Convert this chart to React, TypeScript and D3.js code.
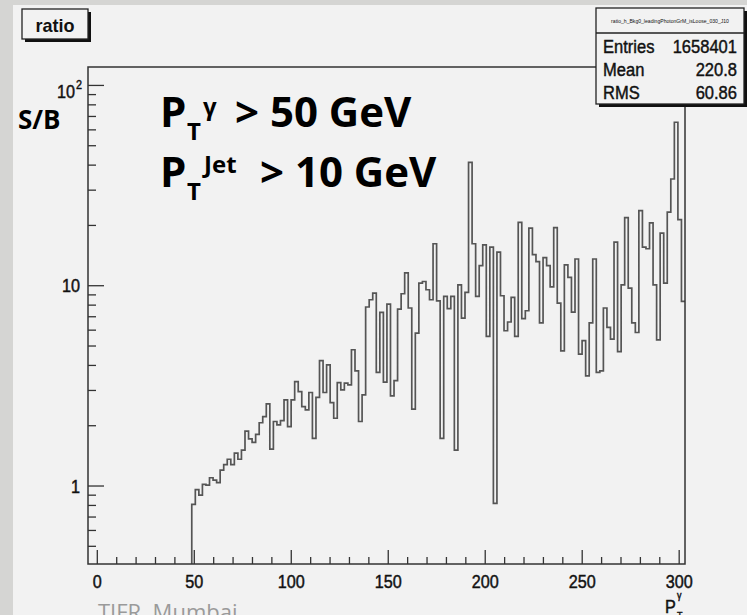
import React from "react";
import * as d3 from "d3";

// ---- data ----
const BIN_START = 48.7; // GeV, lower edge of first filled bin
const BIN_END = 303; // GeV, upper edge of last bin
const ratioValues: number[] = [
  0.81, 0.96, 0.9, 1.02, 1.01, 1.1, 1.07, 1.04, 1.2, 1.28,
  1.36, 1.28, 1.46, 1.36, 1.51, 1.88, 1.72, 1.65, 1.81, 2.07,
  2.22, 2.57, 1.53, 2.1, 2.02, 2.12, 2.69, 1.98, 2.69, 3.32,
  2.96, 2.49, 2.4, 2.93, 1.73, 2.77, 4.23, 2.93, 4.03, 2.61,
  2.18, 3.28, 3.02, 3.26, 3.2, 4.79, 3.76, 2.1, 2.85, 7.83,
  8.51, 9.19, 3.69, 7.36, 3.3, 8.1, 2.82, 3.36, 7.65, 9.12,
  11.6, 7.74, 2.42, 5.8, 10.3, 10.5, 9.55, 8.51, 16.2, 8.41,
  1.73, 8.84, 7.69, 8.84, 1.51, 10.1, 6.89, 9.26, 41.3, 16.2,
  8.84, 12.6, 16.0, 5.58, 15.6, 0.82, 14.7, 8.91, 5.96, 6.59,
  8.74, 5.58, 20.7, 6.85, 7.5, 19.4, 14.3, 13.2, 6.52, 13.8,
  12.6, 9.86, 19.5, 8.19, 4.73, 12.7, 11.0, 7.39, 13.6, 4.55,
  5.32, 3.55, 6.52, 13.6, 3.69, 3.76, 7.74, 6.19, 5.41, 16.5,
  4.69, 10.1, 21.9, 9.73, 6.52, 5.84, 23.7, 15.6, 15.3, 20.6,
  10.1, 5.36, 18.3, 10.3, 23.3, 34.1, 65.5, 21.4, 8.35,
];
const xMajorTicks = [0, 50, 100, 150, 200, 250, 300];
const xMinorStep = 10;
const yMajorTicks = [1, 10, 100];
const yTickLabels = ["1", "10", "10"];
const statsTitle = "ratio_h_Bkg0_leadingPhotonGrM_isLoose_030_J10";
const statsNames = ["Entries", "Mean", "RMS"];
const statsValues = ["1658401", "220.8", "60.86"];
const histTitle = "ratio";
const yAxisTitle = "S/B";
const cutLine1 = { main: "P", sub: "T", sup: "\u03B3", rest: "> 50 GeV" };
const cutLine2 = { main: "P", sub: "T", sup: "Jet", rest: "> 10 GeV" };
const footer = "TIFR, Mumbai";

const axisFont = "'Liberation Sans', Arial, sans-serif";
const annFont = "'Open Sans', Lato, sans-serif";
const ink = "#111";

function CText(props: {
  x: number;
  y: number;
  sx?: number;
  size: number;
  anchor?: string;
  weight?: number;
  bold?: boolean;
  children: React.ReactNode;
}) {
  const { x, y, sx = 0.87, size, anchor = "start", weight = 400, bold = true, children } = props;
  return (
    <text
      transform={`translate(${x},${y}) scale(${sx},1)`}
      textAnchor={anchor}
      fontFamily={axisFont}
      fontSize={size}
      fontWeight={weight}
      fill={ink}
      stroke={bold ? ink : "none"}
      strokeWidth={bold ? 0.45 : 0}
    >
      {children}
    </text>
  );
}

export default function App() {
  const W = 747;
  const H = 615;
  const F = { left: 88, top: 67, right: 685, bottom: 564 };
  const X_MIN = -4.8;
  const X_MAX = 303;
  const Y_MIN = 0.408;
  const Y_MAX = 123.6;

  const x = d3.scaleLinear().domain([X_MIN, X_MAX]).range([F.left, F.right]);
  const y = d3.scaleLog().domain([Y_MIN, Y_MAX]).range([F.bottom, F.top]);

  const bw = (BIN_END - BIN_START) / ratioValues.length;
  const pts: [number, number][] = [[BIN_START, Y_MIN]];
  ratioValues.forEach((v, i) => pts.push([BIN_START + i * bw, v]));
  pts.push([BIN_END, ratioValues[ratioValues.length - 1]]);
  const line = d3
    .line<[number, number]>()
    .x((d) => x(d[0]))
    .y((d) => y(Math.max(d[1], Y_MIN)))
    .curve(d3.curveStepAfter);
  const histPath = line(pts) || "";

  const xMinor = d3.range(0, 301, xMinorStep).filter((v) => v % 50 !== 0);
  const yMinor: number[] = [];
  [0.1, 1, 10, 100].forEach((dec) => {
    for (let k = 2; k <= 9; k++) {
      const v = k * dec;
      if (v >= Y_MIN && v <= Y_MAX) yMinor.push(v);
    }
  });

  return (
    <svg
      width={W}
      height={H}
      style={{ position: "fixed", left: 0, top: 0, display: "block" }}
    >
      <rect x={0} y={0} width={W} height={H} fill="#d5d5d3" />
      <rect x={13} y={5} width={W - 13} height={H - 5} fill="#f2f2f2" />

      {/* footer text, cut at the bottom as in the slide */}
      <text x={98} y={620} fontFamily={annFont} fontSize={22} fill="#9a9a9a">
        {footer}
      </text>

      {/* histogram */}
      <defs>
        <clipPath id="frameClip">
          <rect x={F.left} y={F.top} width={F.right - F.left} height={F.bottom - F.top} />
        </clipPath>
      </defs>
      <path
        d={histPath}
        fill="none"
        stroke="#555"
        strokeWidth={1.7}
        clipPath="url(#frameClip)"
      />

      {/* frame */}
      <rect
        x={F.left}
        y={F.top}
        width={F.right - F.left}
        height={F.bottom - F.top}
        fill="none"
        stroke="#333"
        strokeWidth={1.5}
      />

      {/* x axis ticks */}
      {xMajorTicks.map((t) => (
        <line key={"xM" + t} x1={x(t)} x2={x(t)} y1={F.bottom} y2={F.bottom - 14} stroke="#333" strokeWidth={1.3} />
      ))}
      {xMinor.map((t) => (
        <line key={"xm" + t} x1={x(t)} x2={x(t)} y1={F.bottom} y2={F.bottom - 7} stroke="#333" strokeWidth={1.3} />
      ))}
      {xMajorTicks.map((t) => (
        <CText key={"xl" + t} x={x(t)} y={588} size={18} anchor="middle" sx={0.9}>
          {String(t)}
        </CText>
      ))}

      {/* y axis ticks */}
      {yMajorTicks.map((t) => (
        <line key={"yM" + t} x1={F.left} x2={F.left + 16} y1={y(t)} y2={y(t)} stroke="#333" strokeWidth={1.3} />
      ))}
      {yMinor.map((t) => (
        <line key={"ym" + t} x1={F.left} x2={F.left + 8} y1={y(t)} y2={y(t)} stroke="#333" strokeWidth={1.3} />
      ))}
      {yMajorTicks.map((t, i) =>
        t === 100 ? (
          <g key={"yl" + t}>
            <CText x={75} y={y(t) + 13} size={18} anchor="end" sx={0.9}>
              {yTickLabels[i]}
            </CText>
            <CText x={76} y={y(t) + 4} size={12} sx={0.9}>
              2
            </CText>
          </g>
        ) : (
          <CText key={"yl" + t} x={80} y={y(t) + 6.5} size={18} anchor="end" sx={0.9}>
            {yTickLabels[i]}
          </CText>
        )
      )}

      {/* x axis title */}
      <CText x={665} y={613} size={18} sx={0.9}>P</CText>
      <CText x={677} y={599} size={10} sx={0.9}>{"\u03B3"}</CText>
      <CText x={677} y={620} size={10} sx={0.9}>T</CText>

      {/* y axis title */}
      <text x={18} y={129} fontFamily={annFont} fontWeight={700} fontSize={26} fill="#000">
        {yAxisTitle}
      </text>

      {/* cut annotations */}
      <g fontFamily={annFont} fontWeight={700} fill="#000">
        <text x={160} y={127} fontSize={42}>{cutLine1.main}</text>
        <text x={187} y={140} fontSize={24}>{cutLine1.sub}</text>
        <text x={203} y={115} fontSize={24}>{cutLine1.sup}</text>
        <text x={235} y={127} fontSize={42}>{cutLine1.rest}</text>

        <text x={160} y={187} fontSize={42}>{cutLine2.main}</text>
        <text x={187} y={200} fontSize={24}>{cutLine2.sub}</text>
        <text x={204} y={173} fontSize={24}>{cutLine2.sup}</text>
        <text x={260} y={187} fontSize={42}>{cutLine2.rest}</text>
      </g>

      {/* title box */}
      <rect x={25} y={12} width={66} height={30} fill="#111" />
      <rect x={22} y={9} width={66} height={30} fill="#f2f2f2" stroke="#222" strokeWidth={1.3} />
      <CText x={55} y={32} size={19} anchor="middle" weight={700} sx={0.95} bold={false}>
        {histTitle}
      </CText>

      {/* stats box */}
      <rect x={599} y={11} width={148} height={96} fill="#111" />
      <rect x={596} y={8} width={148} height={96} fill="#f2f2f2" stroke="#222" strokeWidth={1.3} />
      <line x1={596} x2={744} y1={33} y2={33} stroke="#222" strokeWidth={1.3} />
      <CText x={670} y={23} size={6} anchor="middle" sx={0.85} bold={false}>
        {statsTitle}
      </CText>
      {statsNames.map((n, i) => (
        <g key={n}>
          <CText x={603} y={53 + i * 23} size={19}>
            {n}
          </CText>
          <CText x={737} y={53 + i * 23} size={19} anchor="end">
            {statsValues[i]}
          </CText>
        </g>
      ))}
    </svg>
  );
}
